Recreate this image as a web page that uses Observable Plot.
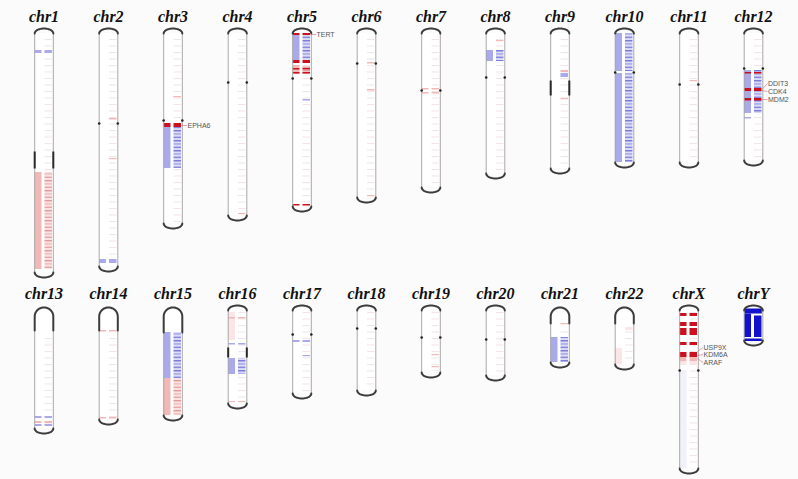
<!DOCTYPE html>
<html><head><meta charset="utf-8">
<script src="https://cdn.jsdelivr.net/npm/d3@7"></script>
<script src="https://cdn.jsdelivr.net/npm/@observablehq/plot@0.6"></script>
<style>html,body{margin:0;padding:0;background:#fbfbfb;} #chart svg{display:block;}</style>
</head><body><div id="chart"></div>
<script>
// ---- data (positions in Mb-like units) ----
const chroms = ["chr1","chr2","chr3","chr4","chr5","chr6","chr7","chr8","chr9","chr10","chr11","chr12",
                "chr13","chr14","chr15","chr16","chr17","chr18","chr19","chr20","chr21","chr22","chrX","chrY"];
const lengths = [239,233,190,182,173,164,154,140,135,129,129,127,118,109,105,93,83,80,62,65,52,54,158,30];
const centromeres = [117,90,87,49,45,30,57,44,47,39,51,35,20,20,22,37,24,18,27,29,13,13,60,null];
const acrocentric = ["chr13","chr14","chr15","chr21","chr22"];
const heterochromatin = [["chr1",118,135],["chr9",47,62],["chr16",37,47]];

const lossSegs = [
  ["chr1",17,20,"both"],["chr2",226,230,"both"],["chr3",94,135,"both"],["chr5",2,27,"both"],
  ["chr5",66,67.5,"right"],["chr8",17,28,"both"],["chr9",40,44,"right"],["chr10",0,38,"both"],
  ["chr10",40,129,"both"],["chr12",37,80,"both"],["chr12",84,85.5,"left"],["chr13",106,108,"both"],
  ["chr13",114,116,"both"],["chr15",22,68,"both"],["chr16",33,34.5,"both"],["chr16",48,64,"both"],
  ["chr17",30,32,"both"],["chr17",45,46.2,"right"],["chr21",27,52,"both"]
];
const gainSegs = [
  ["chr1",139,236,"both"],["chr2",85,86.5,"right"],["chr2",125,126.2,"right"],["chr3",63,64.2,"right"],
  ["chr4",180,181.2,"right"],["chr5",32,41,"both"],["chr6",29,30.5,"right"],["chr6",56,57.5,"right"],
  ["chr6",162,163.2,"right"],["chr7",55,56.5,"both"],["chr7",59,60.5,"both"],["chr8",7,8.2,"right"],
  ["chr9",37,39,"right"],["chr9",65,66.2,"right"],["chr11",47,48.2,"right"],["chr13",111,113,"both"],
  ["chr14",20,21.5,"both"],["chr14",107,108.5,"both"],["chr15",68,105,"both"],["chr16",7,8.5,"both"],
  ["chr16",91,92.2,"both"],["chr19",44,45.2,"right"],["chr19",56,57.2,"right"],["chr21",13,14.2,"right"],
  ["chrX",47,51,"both"]
];
const lightGainSegs = [["chrX",51,55,"both"],["chr22",17,20,"right"],["chr22",38,54,"left"],["chr16",2,30,"left"]];
const lightLossSegs = [["chrX",60,158,"left"]];
const ampSegs = [
  ["chr3",90,94,"both"],["chr5",0,2,"both"],["chr5",27,30,"both"],["chr5",35,36.5,"both"],
  ["chr5",39,40.5,"both"],["chr5",171,172.5,"both"],["chr12",39,40.5,"both"],["chr12",55,58,"both"],
  ["chr12",65,67.5,"both"],["chrX",3,6,"both"],["chrX",12,16,"both"],["chrX",18,25,"both"],
  ["chrX",32,35,"both"],["chrX",42,47,"both"]
];
const delSegs = [["chrY",-1.5,3.5,"full"],["chrY",3.5,27,"left"],["chrY",5.5,27,"right"],["chrY",28.5,31,"full"]];

const geneNames = ["TERT","EPHA6","DDIT3","CDK4","MDM2","USP9X","KDM6A","ARAF"];
const geneChroms = ["chr5","chr3","chr12","chr12","chr12","chrX","chrX","chrX"];
const genePos = [1,92,56,57,66,41,45,48];
const labelPos = [1,92,50,58,66,37,44,52];

// ---- layout helpers ----
const PX = 1/64.5;           // one pixel in column units
const HW = 9.3;              // half width of a chromosome (px)
const info = chroms.map((c,k)=>({chrom:c, col:k%12, off:k<12?0:277, len:lengths[k], cen:centromeres[k], acro:acrocentric.includes(c)}));
const byName = new Map(info.map(d=>[d.chrom,d]));
const rows = (list,type)=>list.map(([chrom,s,e,bars])=>({...byName.get(chrom), s, e, bars, type}));

const loss = rows(lossSegs,"loss"), gain = rows(gainSegs,"gain"), amp = rows(ampSegs,"amp"),
      del = rows(delSegs,"del"), lgain = rows(lightGainSegs,"lgain"), lloss = rows(lightLossSegs,"lloss");

function segMarks(data, color, stripe){
  const y1 = d=>d.off+d.s, y2 = d=>d.off+d.e;
  const out = [];
  out.push(Plot.rect(data.filter(d=>d.bars==="both"||d.bars==="left"),
    {x1:d=>d.col-9*PX, x2:d=>d.col-2*PX, y1, y2, fill:color}));
  out.push(Plot.rect(data.filter(d=>(d.bars==="both"||d.bars==="right") && (!stripe || d.e-d.s<=5)),
    {x1:d=>d.col+1*PX, x2:d=>d.col+8.5*PX, y1, y2, fill:color}));
  if (stripe) out.push(Plot.rect(data.filter(d=>(d.bars==="both"||d.bars==="right") && d.e-d.s>5),
    {x1:d=>d.col+1*PX, x2:d=>d.col+8.5*PX, y1, y2, fill:`url(#${stripe})`}));
  out.push(Plot.rect(data.filter(d=>d.bars==="full"),
    {x1:d=>d.col-(HW-0.5)*PX, x2:d=>d.col+(HW-0.5)*PX, y1, y2, fill:color}));
  return out;
}

// cap / arch outline points (shape geometry derived from chromosome extents)
const capPts = info.flatMap(d=>{
  const pts = [], n = 24;
  for (let t=0;t<=n;t++){
    const a = Math.PI*(1-t/n);
    pts.push({id:d.chrom+"b", x:d.col+HW*Math.cos(a)*PX, y:d.off+d.len+5*Math.sin(a)});
  }
  if (!d.acro){
    for (let t=0;t<=n;t++){
      const a = Math.PI*(1-t/n);
      pts.push({id:d.chrom+"t", x:d.col+HW*Math.cos(a)*PX, y:d.off-5*Math.sin(a)});
    }
  } else {
    pts.push({id:d.chrom+"t", x:d.col-HW*PX, y:d.off+d.cen});
    for (let t=0;t<=n;t++){
      const a = Math.PI*(1-t/n);
      pts.push({id:d.chrom+"t", x:d.col+HW*Math.cos(a)*PX, y:d.off+6-9*Math.sin(a)});
    }
    pts.push({id:d.chrom+"t", x:d.col+HW*PX, y:d.off+d.cen});
  }
  return pts;
});

const sides = info.flatMap(d=>[-1,1].map(s=>({...d, sx:s})));
const het = heterochromatin.flatMap(([c,s,e])=>[-1,1].map(sx=>({...byName.get(c), s, e, sx})));
const hetNames = heterochromatin.map(h=>h[0]);
const cenDots = sides.filter(d=>d.cen!=null && !d.acro && !hetNames.includes(d.chrom));
const genes = geneNames.map((g,i)=>({name:g, ...byName.get(geneChroms[i]), gp:genePos[i], lp:labelPos[i]}));

function defs(){
  const d = document.createElementNS("http://www.w3.org/2000/svg","defs");
  d.innerHTML = `
  <pattern id="stripeLoss" patternUnits="userSpaceOnUse" width="10" height="10">
    <rect width="10" height="10" fill="#dcdcf6"/>
    <rect y="0" width="10" height="1.5" fill="#7c7cd9"/>
    <rect y="3.3" width="10" height="1.3" fill="#a0a0e6"/>
    <rect y="6.6" width="10" height="1.5" fill="#8888dd"/>
  </pattern>
  <pattern id="stripeGain" patternUnits="userSpaceOnUse" width="10" height="10">
    <rect width="10" height="10" fill="#f9e2e2"/>
    <rect y="0" width="10" height="1.4" fill="#e59a9a"/>
    <rect y="3.3" width="10" height="1.2" fill="#efb6b6"/>
    <rect y="6.6" width="10" height="1.4" fill="#e8a6a6"/>
  </pattern>
  <pattern id="faint" patternUnits="userSpaceOnUse" width="10" height="6.5">
    <rect y="0" width="10" height="1" fill="#f2e4e9"/>
  </pattern>`;
  return d;
}

const plot = Plot.plot({
  width: 798, height: 479, margin: 0,
  x: {domain:[0,11], range:[43.5,753], axis:null},
  y: {domain:[0,446], range:[33,479], axis:null},
  style: {background:"transparent", overflow:"visible"},
  marks: [
    defs,
    // chromosome body
    Plot.rect(info, {x1:d=>d.col-HW*PX, x2:d=>d.col+HW*PX, y1:d=>d.off, y2:d=>d.off+d.len, fill:"#ffffff"}),
    Plot.rect(info.filter(d=>d.chrom!=="chrY"), {x1:d=>d.col+1*PX, x2:d=>d.col+8.5*PX, y1:d=>d.off+(d.acro?d.cen+4:2), y2:d=>d.off+d.len-1, fill:"url(#faint)"}),
    ...segMarks(lloss, "#f1f1fa", null),
    ...segMarks(lgain, "#fae6e6", null),
    ...segMarks(loss, "#a9a9ec", "stripeLoss"),
    ...segMarks(gain, "#f2b7b7", "stripeGain"),
    ...segMarks(amp, "#cc1020", null),
    ...segMarks(del, "#1212cc", null),
    // outline
    Plot.link(sides, {x1:d=>d.col+d.sx*HW*PX, x2:d=>d.col+d.sx*HW*PX, y1:d=>d.off+(d.acro?d.cen:0), y2:d=>d.off+d.len, stroke:"#a8a8a8", strokeWidth:1}),
    Plot.line(capPts, {x:"x", y:"y", z:"id", stroke:"#3c3c3c", strokeWidth:2, curve:"linear"}),
    Plot.link(het, {x1:d=>d.col+d.sx*HW*PX, x2:d=>d.col+d.sx*HW*PX, y1:d=>d.off+d.s, y2:d=>d.off+d.e, stroke:"#2a2a2a", strokeWidth:2}),
    Plot.dot(cenDots, {x:d=>d.col+d.sx*HW*PX, y:d=>d.off+d.cen, r:1.3, fill:"#222"}),
    // titles
    Plot.text(info, {x:"col", y:d=>d.off-17, text:"chrom", fontFamily:"'Liberation Serif', 'Times New Roman', serif", fontWeight:"bold", fontStyle:"italic", fontSize:16, fill:"#111"}),
    // gene labels
    Plot.link(genes, {x1:d=>d.col+8.5*PX, y1:d=>d.off+d.gp, x2:d=>d.col+14*PX, y2:d=>d.off+d.lp, stroke:"#c87070", strokeWidth:0.6}),
    Plot.text(genes, {x:d=>d.col+14.5*PX, y:d=>d.off+d.lp, text:"name", textAnchor:"start", fontFamily:"'Liberation Sans', Arial, sans-serif", fontSize:7, fill:"#555"})
  ]
});
document.getElementById("chart").appendChild(plot);
</script>
</body></html>
